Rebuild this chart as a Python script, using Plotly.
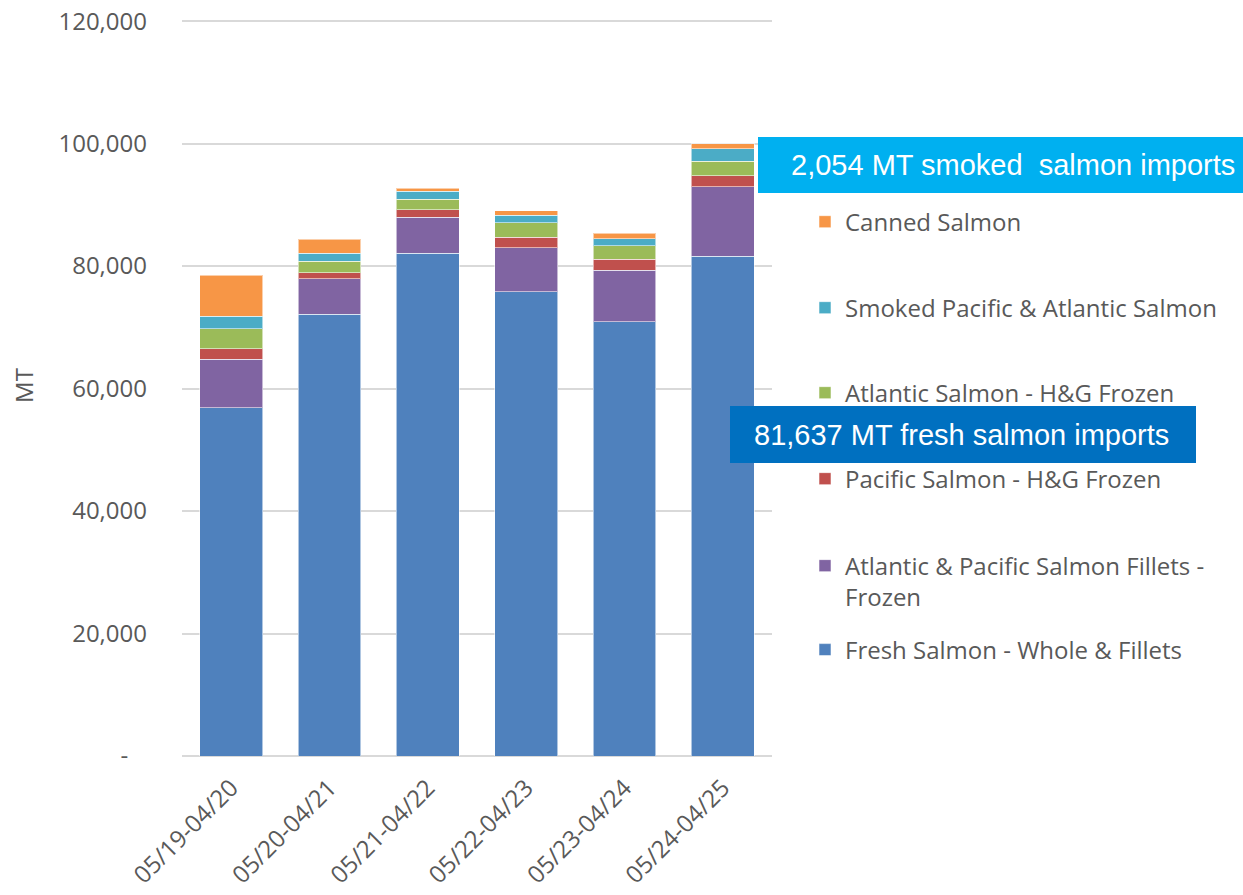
import plotly.graph_objects as go

categories = ["05/19-04/20", "05/20-04/21", "05/21-04/22", "05/22-04/23", "05/23-04/24", "05/24-04/25"]

fresh = [56900, 72100, 82100, 75800, 70900, 81637]
fillets_frozen = [7900, 5800, 5900, 7200, 8400, 11300]
pacific_hg = [1700, 1000, 1200, 1700, 1800, 1800]
atlantic_hg = [3300, 1900, 1700, 2400, 2200, 2400]
smoked = [2000, 1300, 1300, 1200, 1200, 2054]
canned = [6700, 2300, 500, 700, 900, 800]

series_names = [
    "Fresh Salmon - Whole & Fillets",
    "Atlantic & Pacific Salmon Fillets -<br>Frozen",
    "Pacific Salmon - H&G Frozen",
    "Atlantic Salmon - H&G Frozen",
    "Smoked Pacific & Atlantic Salmon",
    "Canned Salmon",
]
series_values = [fresh, fillets_frozen, pacific_hg, atlantic_hg, smoked, canned]
series_colors = ["#4F81BD", "#8064A2", "#C0504D", "#9BBB59", "#4BACC6", "#F79646"]

y_tickvals = [0, 20000, 40000, 60000, 80000, 100000, 120000]
y_ticktext = ["-   ", "20,000", "40,000", "60,000", "80,000", "100,000", "120,000"]

callout_smoked = "2,054 MT smoked  salmon imports"
callout_fresh = "81,637 MT fresh salmon imports"

# page body margin is removed below, so figure pixels == screen pixels
W, H = 1243, 895
# plot area in screen pixels
L, R, B = 182, 772, 756
YMAX = 121000
T = B - (B - 21) * YMAX / 120000


def px(xp):
    return (xp - L) / (R - L)


def py(yp):
    return (B - yp) / (B - T)


# legend centre (screen y) for each series, in series order
legend_y = [650, 581.5, 479, 393, 308, 222]
legend_ids = ["legend", "legend2", "legend3", "legend4", "legend5", "legend6"]

fig = go.Figure()
for name, vals, col, lid in zip(series_names, series_values, series_colors, legend_ids):
    fig.add_trace(go.Bar(
        x=categories, y=vals, name=name,
        marker=dict(color=col, line=dict(color="rgba(255,255,255,0.55)", width=1)),
        legend=lid, showlegend=True,
    ))

legend_layout = {}
for lid, ly in zip(legend_ids, legend_y):
    legend_layout[lid] = dict(
        x=px(805), xanchor="left",
        y=py(ly), yanchor="middle",
        valign="top",
        font=dict(size=24, color="#595959", family="Open Sans"),
        bgcolor="rgba(0,0,0,0)",
        visible=True,
    )

fig.update_layout(
    width=W, height=H,
    showlegend=True,
    barmode="stack",
    bargap=0.36,
    plot_bgcolor="white",
    paper_bgcolor="white",
    font=dict(family="Open Sans", color="#595959"),
    margin=dict(l=L, r=W - R, t=T, b=H - B, autoexpand=False),
    xaxis=dict(
        tickangle=-45,
        tickfont=dict(size=24, color="#595959"),
        showgrid=False,
        showline=False,
        ticks="",
        ticklabelstandoff=12,
    ),
    yaxis=dict(
        range=[0, YMAX],
        tickvals=y_tickvals,
        ticktext=y_ticktext,
        tickfont=dict(size=24, color="#595959"),
        ticklabeloverflow="allow",
        showgrid=True,
        gridcolor="#D9D9D9",
        gridwidth=2,
        zeroline=True,
        zerolinecolor="#D9D9D9",
        zerolinewidth=2,
        ticks="",
        ticklabelstandoff=34,
        title=dict(text="MT", font=dict(size=24, color="#595959"), standoff=18),
    ),
    shapes=[
        dict(type="rect", xref="paper", yref="paper",
             x0=px(758), x1=px(1243), y0=py(193), y1=py(137),
             fillcolor="#00B0F0", line=dict(width=0), layer="above"),
        dict(type="rect", xref="paper", yref="paper",
             x0=px(730), x1=px(1196), y0=py(463), y1=py(406),
             fillcolor="#0070C0", line=dict(width=0), layer="above"),
    ],
    annotations=[
        dict(text=callout_smoked, xref="paper", yref="paper",
             x=px(789), y=py(165), xanchor="left", yanchor="middle",
             showarrow=False,
             font=dict(family="Liberation Sans", size=29, color="white")),
        dict(text=callout_fresh, xref="paper", yref="paper",
             x=px(752), y=py(434.5), xanchor="left", yanchor="middle",
             showarrow=False,
             font=dict(family="Liberation Sans", size=29, color="white")),
    ],
    **legend_layout,
)

fig.write_html(
    "out.html",
    config={"displayModeBar": False},
    post_script="document.body.style.margin='0';document.body.style.overflow='hidden';",
)
